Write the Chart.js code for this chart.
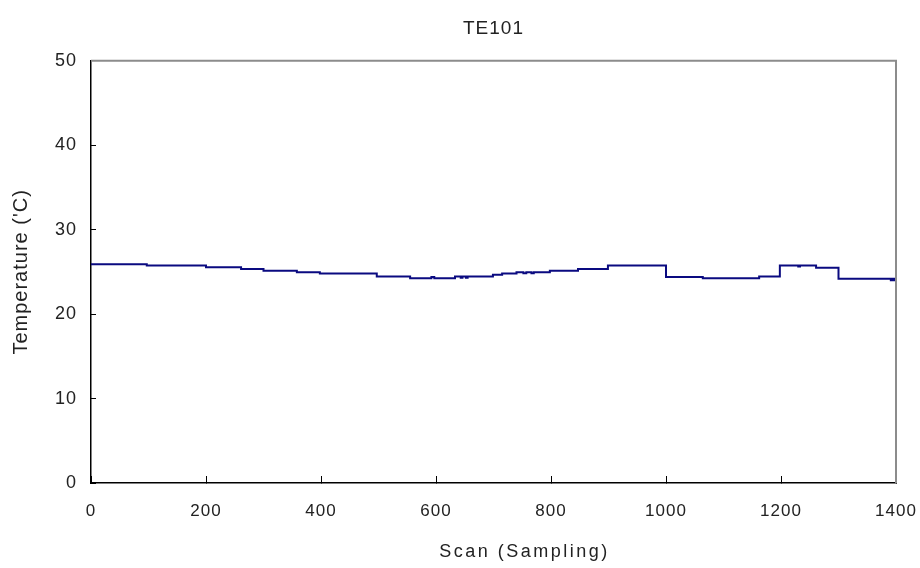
<!DOCTYPE html>
<html lang="ko">
<head>
  <meta charset="utf-8">
  <title>TE101</title>
  <script type="text/javascript" src="https://cdn.jsdelivr.net/npm/chart.js"></script>
  <style type="text/css">
    html, body { margin:0; padding:0; background:#fff; }
    #wrap { width:920px; height:568px; }
  </style>
</head>
<body>
  <div id="wrap">
    <canvas id="chart" width="920" height="568"></canvas>
  </div>

  <script type="text/javascript">
    // scan index where the logged temperature changes, and the new reading
    const stepScan = [0, 97, 200, 261, 300, 358, 398, 497, 555, 592, 597, 633, 643, 646, 652, 655,
                      699, 715, 740, 752, 757, 766, 770, 798, 847, 899, 1000, 1064, 1162, 1198,
                      1230, 1233, 1261, 1300, 1391, 1394, 1397, 1400];
    const stepTemp = [25.9, 25.75, 25.55, 25.35, 25.15, 24.95, 24.8, 24.45, 24.25, 24.4, 24.25, 24.45, 24.3, 24.45, 24.3, 24.45,
                      24.65, 24.8, 24.95, 24.85, 24.95, 24.85, 24.95, 25.15, 25.35, 25.75, 24.4, 24.25, 24.45, 25.75,
                      25.65, 25.75, 25.5, 24.2, 24.0, 24.2, 24.0, 24.0];
    const xTicks = [0, 200, 400, 600, 800, 1000, 1200, 1400];
    const yTicks = [0, 10, 20, 30, 40, 50];

    const FONT = "'Liberation Sans', Arial, sans-serif";

    const points = stepScan.map((x, i) => ({ x, y: stepTemp[i] }));

    const framePlugin = {
      id: 'frame',
      beforeDraw: (chart) => { chart.ctx.letterSpacing = '1px'; },
      afterDraw: (chart) => {
        const { ctx, chartArea: a } = chart;
        ctx.save();
        // gray frame on the top and right sides
        ctx.strokeStyle = '#8c8c8c';
        ctx.lineWidth = 2;
        ctx.beginPath();
        ctx.moveTo(a.left, a.top);
        ctx.lineTo(a.right, a.top);
        ctx.lineTo(a.right, a.bottom);
        ctx.stroke();
        // x axis title
        ctx.fillStyle = '#222';
        ctx.font = '18px ' + FONT;
        ctx.letterSpacing = '2.5px';
        ctx.textAlign = 'center';
        ctx.textBaseline = 'middle';
        ctx.fillText('Scan (Sampling)', (a.left + a.right) / 2 + 31, 552);
        ctx.restore();
      }
    };

    const noPad = (s) => { s.paddingLeft = 0; s.paddingRight = 0; s.paddingTop = 0; s.paddingBottom = 0; };

    new Chart(document.getElementById('chart'), {
      type: 'line',
      data: {
        datasets: [{
          label: 'TE101',
          data: points,
          stepped: true,
          borderColor: '#0a0a80',
          borderWidth: 2,
          pointRadius: 0,
          fill: false
        }]
      },
      options: {
        responsive: false,
        animation: false,
        layout: { padding: { right: 24 } },
        plugins: {
          legend: { display: false },
          tooltip: { enabled: false },
          title: {
            display: true,
            text: 'TE101',
            fullSize: false,
            color: '#222',
            font: { family: FONT, size: 19, weight: 'normal' },
            padding: { top: 17, bottom: 21 }
          }
        },
        scales: {
          x: {
            type: 'linear',
            min: 0, max: 1400,
            afterBuildTicks: (s) => { s.ticks = xTicks.map(v => ({ value: v })); },
            afterFit: (s) => { s.height = 85; noPad(s); },
            grid: { drawOnChartArea: false, tickLength: -7, color: '#000' },
            border: { color: '#000', width: 1.5 },
            ticks: { color: '#222', font: { family: FONT, size: 17 }, padding: 25, maxRotation: 0,
                     callback: (v) => String(v) }
          },
          y: {
            min: 0, max: 50,
            afterBuildTicks: (s) => { s.ticks = yTicks.map(v => ({ value: v })); },
            afterFit: (s) => { s.width = 91; noPad(s); },
            grid: { drawOnChartArea: false, tickLength: -5, color: '#000' },
            border: { color: '#000', width: 1.5 },
            ticks: { color: '#222', font: { family: FONT, size: 18 }, padding: 19,
                     callback: (v) => String(v) },
            title: {
              display: true,
              text: "Temperature ('C)",
              color: '#222',
              font: { family: FONT, size: 20 },
              padding: { top: 9, bottom: 0 }
            }
          }
        }
      },
      plugins: [framePlugin]
    });
  </script>
</body>
</html>
